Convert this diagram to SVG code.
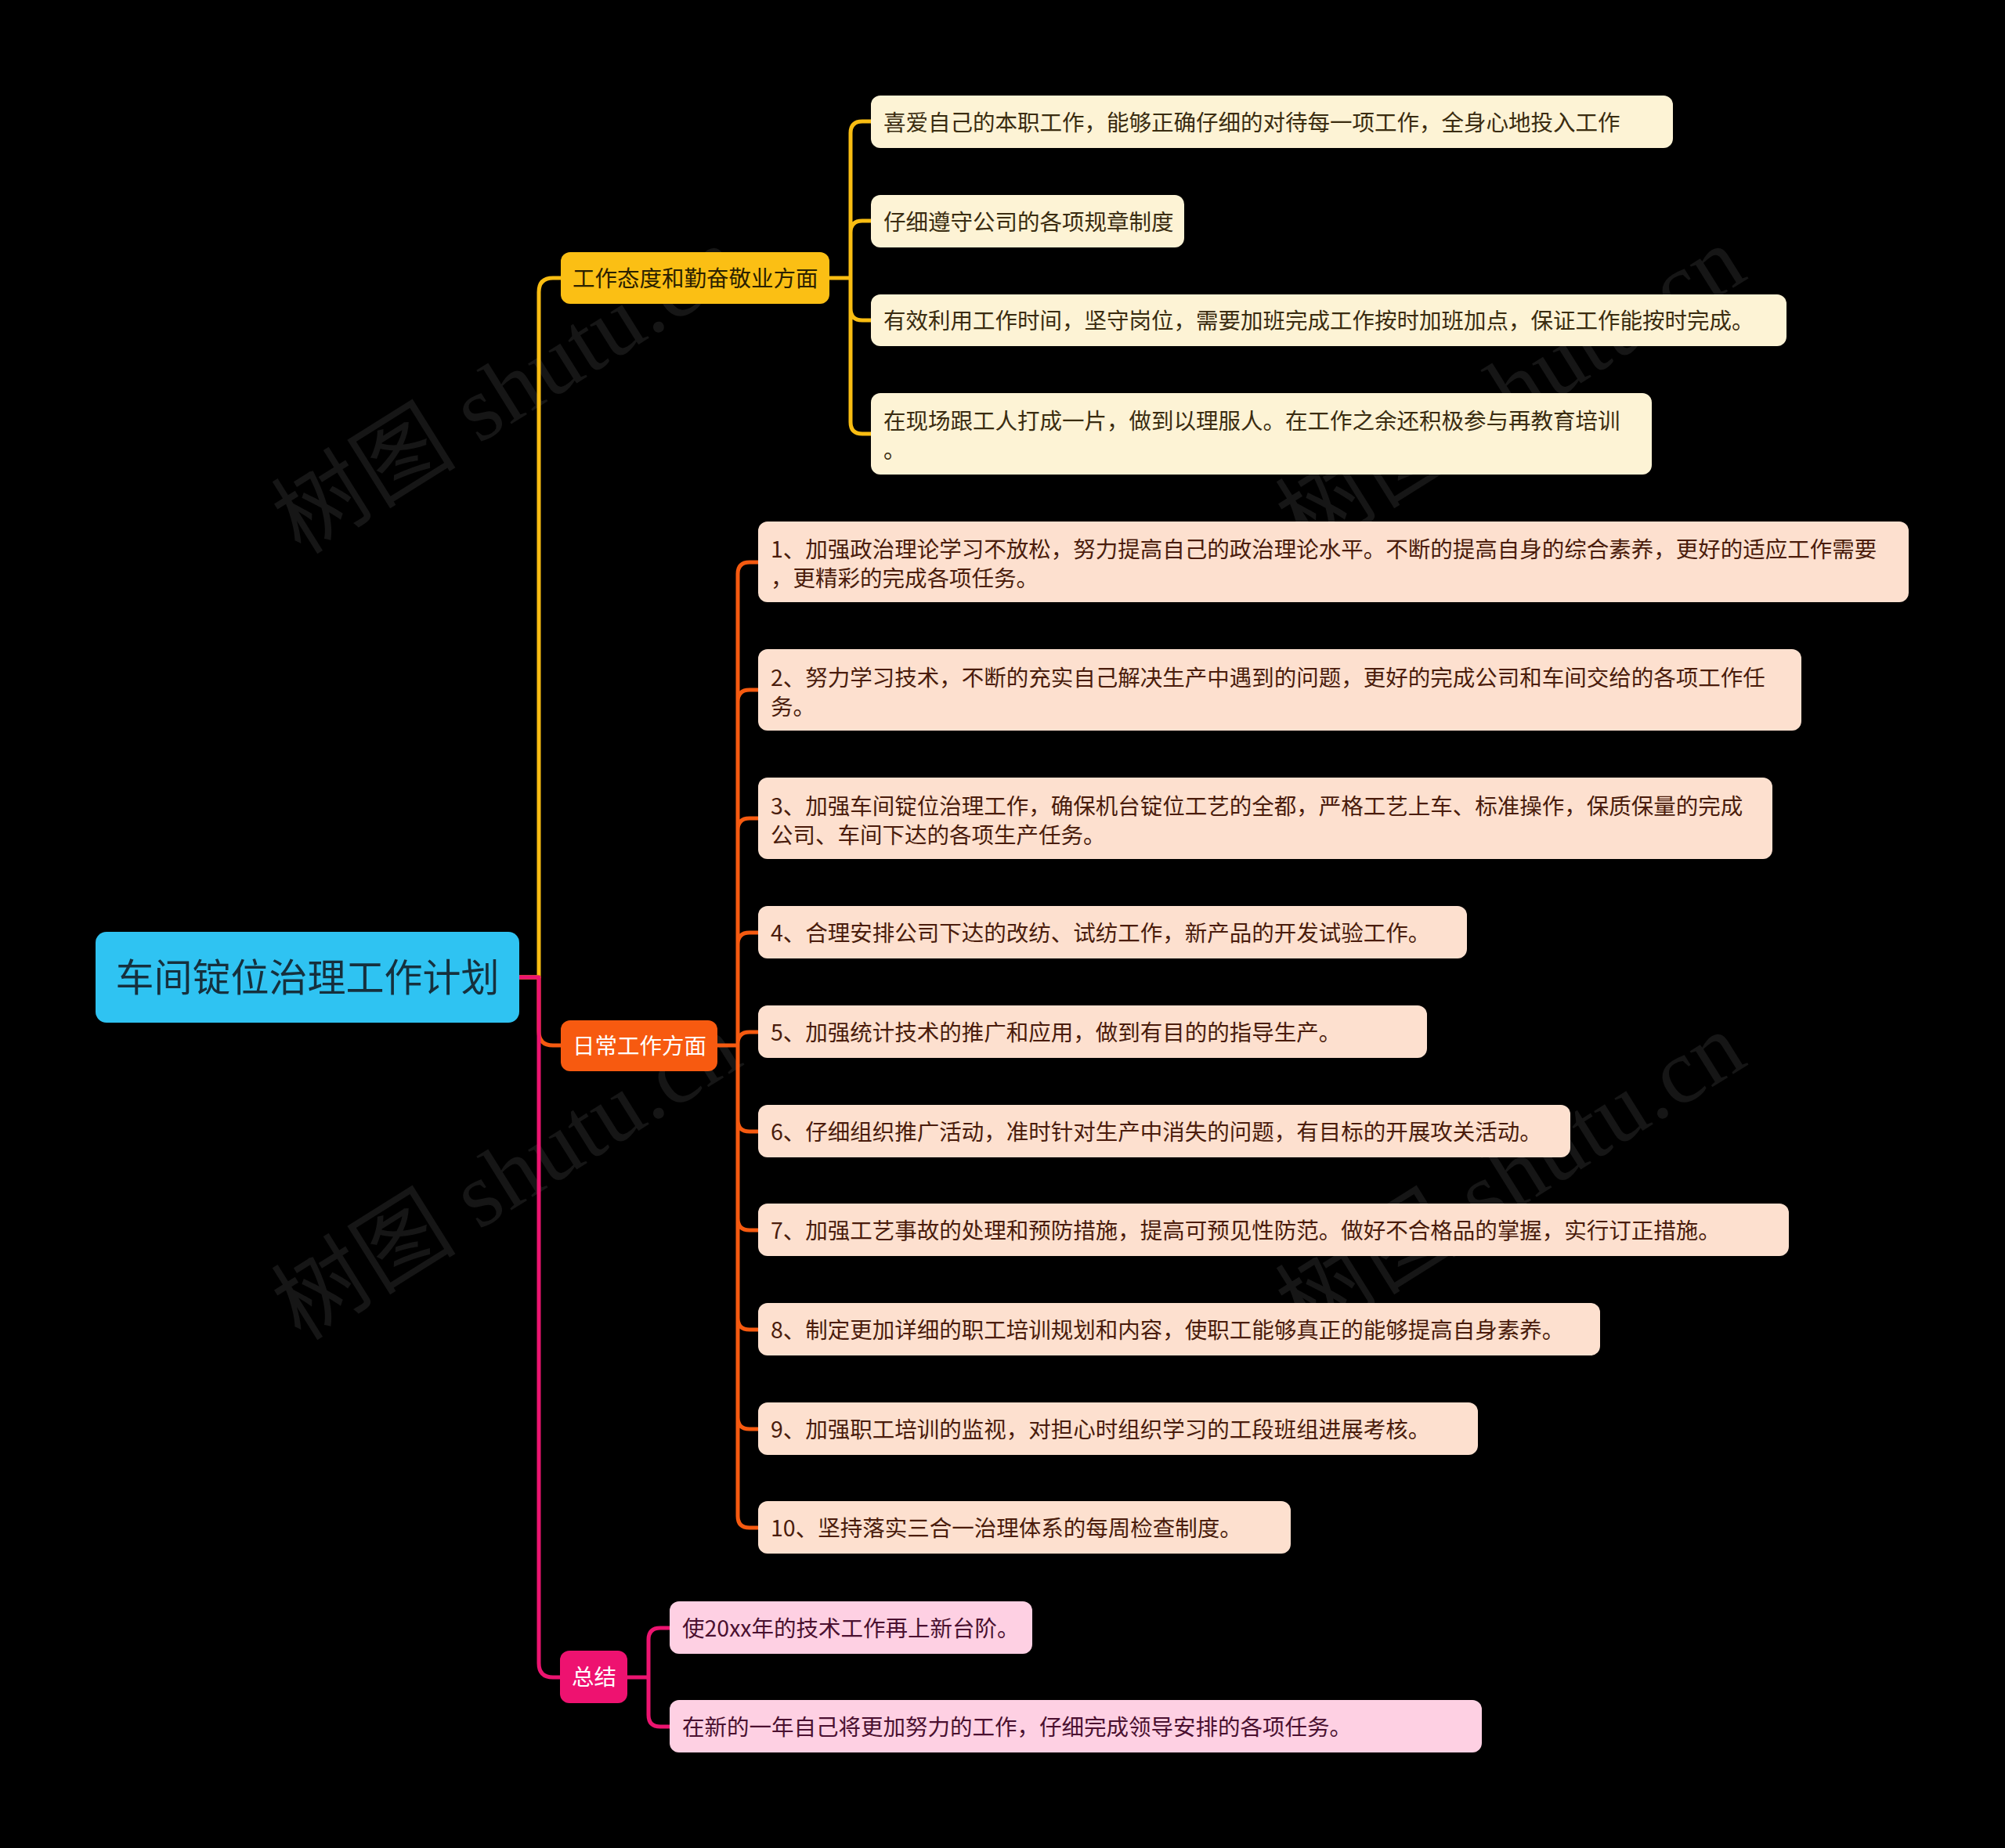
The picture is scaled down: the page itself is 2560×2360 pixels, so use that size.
<svg xmlns="http://www.w3.org/2000/svg" width="2560" height="2360" viewBox="0 0 2560 2360">
<style>
.t{font-family:"Noto Sans CJK SC","Microsoft YaHei",sans-serif;font-size:28.5px}
.wm{font-family:"Liberation Serif","Noto Sans CJK SC",serif;font-size:118px;fill:#161616}
.ln{fill:none;stroke-width:5;stroke-linecap:round;stroke-linejoin:round}
.ye{stroke:#f9bd12}.or{stroke:#f65a10}.pk{stroke:#ec1470}
.cy{fill:#fdf3d5}.co{fill:#fde0cf}.cp{fill:#fed0e3}
.ty{fill:#3a2c10}.to{fill:#4a1c0c}.tp{fill:#4a1030}
</style>
<rect x="0" y="0" width="2560" height="2360" fill="#000000"/>
<g id="watermarks">
<text class="wm" text-anchor="middle" textLength="670" transform="translate(668,532) rotate(-32)">树图 shutu.cn</text>
<text class="wm" text-anchor="middle" textLength="670" transform="translate(1950,532) rotate(-32)">树图 shutu.cn</text>
<text class="wm" text-anchor="middle" textLength="670" transform="translate(668,1536) rotate(-32)">树图 shutu.cn</text>
<text class="wm" text-anchor="middle" textLength="670" transform="translate(1950,1536) rotate(-32)">树图 shutu.cn</text>
</g>
<g id="connectors">
<path class="ln ye" d="M663,1248 H688 V373 Q688,355 706,355 H716"/>
<path class="ln or" d="M663,1248 H688 V1317 Q688,1335 706,1335 H716"/>
<path class="ln pk" d="M663,1248 H688 V2124 Q688,2142 706,2142 H715"/>
<path class="ln ye" d="M1059,355 H1086 M1086,355 V170 Q1086,155 1101,155 H1112 M1086,355 V297 Q1086,282 1101,282 H1112 M1086,355 V394 Q1086,409 1101,409 H1112 M1086,355 V539 Q1086,554 1101,554 H1112"/>
<path class="ln or" d="M916,1335 H942 M942,1335 V733 Q942,718 957,718 H968 M942,1335 V896 Q942,881 957,881 H968 M942,1335 V1060 Q942,1045 957,1045 H968 M942,1335 V1206 Q942,1191 957,1191 H968 M942,1335 V1333 Q942,1318 957,1318 H968 M942,1335 V1430 Q942,1445 957,1445 H968 M942,1335 V1556 Q942,1571 957,1571 H968 M942,1335 V1683 Q942,1698 957,1698 H968 M942,1335 V1810 Q942,1825 957,1825 H968 M942,1335 V1936 Q942,1951 957,1951 H968"/>
<path class="ln pk" d="M801,2142 H828 M828,2142 V2094 Q828,2079 843,2079 H855 M828,2142 V2190 Q828,2205 843,2205 H855"/>
</g>
<g id="root">
<rect x="122" y="1190" width="541" height="116" rx="14" fill="#2fc3f2"/>
<text class="t" x="392.5" y="1266" text-anchor="middle" style="font-size:49px" fill="#16303d">车间锭位治理工作计划</text>
</g>
<g id="n-attitude">
<rect x="716" y="322" width="343" height="66" rx="12" fill="#fbbf14"/>
<text class="t" x="731" y="366" fill="#2b2100">工作态度和勤奋敬业方面</text>
</g>
<g id="n-daily">
<rect x="716" y="1303" width="200" height="65" rx="12" fill="#f75a10"/>
<text class="t" x="731" y="1346" fill="#ffffff">日常工作方面</text>
</g>
<g id="n-summary">
<rect x="715" y="2108" width="86" height="67" rx="12" fill="#ee1270"/>
<text class="t" x="730" y="2152" fill="#ffffff">总结</text>
</g>
<g id="y1"><rect class="cy" x="1112" y="122" width="1024" height="67" rx="12"/><text class="t ty" x="1128" y="167">喜爱自己的本职工作，能够正确仔细的对待每一项工作，全身心地投入工作</text></g>
<g id="y2"><rect class="cy" x="1112" y="249" width="400" height="67" rx="12"/><text class="t ty" x="1128" y="294">仔细遵守公司的各项规章制度</text></g>
<g id="y3"><rect class="cy" x="1112" y="376" width="1169" height="66" rx="12"/><text class="t ty" x="1128" y="420">有效利用工作时间，坚守岗位，需要加班完成工作按时加班加点，保证工作能按时完成。</text></g>
<g id="y4"><rect class="cy" x="1112" y="502" width="997" height="104" rx="12"/><text class="t ty" x="1128" y="548">在现场跟工人打成一片，做到以理服人。在工作之余还积极参与再教育培训</text><text class="t ty" x="1128" y="585">。</text></g>
<g id="o1"><rect class="co" x="968" y="666" width="1469" height="103" rx="12"/><text class="t to" x="984" y="712">1、加强政治理论学习不放松，努力提高自己的政治理论水平。不断的提高自身的综合素养，更好的适应工作需要</text><text class="t to" x="984" y="749">，更精彩的完成各项任务。</text></g>
<g id="o2"><rect class="co" x="968" y="829" width="1332" height="104" rx="12"/><text class="t to" x="984" y="876">2、努力学习技术，不断的充实自己解决生产中遇到的问题，更好的完成公司和车间交给的各项工作任</text><text class="t to" x="984" y="913">务。</text></g>
<g id="o3"><rect class="co" x="968" y="993" width="1295" height="104" rx="12"/><text class="t to" x="984" y="1040">3、加强车间锭位治理工作，确保机台锭位工艺的全都，严格工艺上车、标准操作，保质保量的完成</text><text class="t to" x="984" y="1077">公司、车间下达的各项生产任务。</text></g>
<g id="o4"><rect class="co" x="968" y="1157" width="905" height="67" rx="12"/><text class="t to" x="984" y="1202">4、合理安排公司下达的改纺、试纺工作，新产品的开发试验工作。</text></g>
<g id="o5"><rect class="co" x="968" y="1284" width="854" height="67" rx="12"/><text class="t to" x="984" y="1329">5、加强统计技术的推广和应用，做到有目的的指导生产。</text></g>
<g id="o6"><rect class="co" x="968" y="1411" width="1037" height="67" rx="12"/><text class="t to" x="984" y="1456">6、仔细组织推广活动，准时针对生产中消失的问题，有目标的开展攻关活动。</text></g>
<g id="o7"><rect class="co" x="968" y="1537" width="1316" height="67" rx="12"/><text class="t to" x="984" y="1582">7、加强工艺事故的处理和预防措施，提高可预见性防范。做好不合格品的掌握，实行订正措施。</text></g>
<g id="o8"><rect class="co" x="968" y="1664" width="1075" height="67" rx="12"/><text class="t to" x="984" y="1709">8、制定更加详细的职工培训规划和内容，使职工能够真正的能够提高自身素养。</text></g>
<g id="o9"><rect class="co" x="968" y="1791" width="919" height="67" rx="12"/><text class="t to" x="984" y="1836">9、加强职工培训的监视，对担心时组织学习的工段班组进展考核。</text></g>
<g id="o10"><rect class="co" x="968" y="1917" width="680" height="67" rx="12"/><text class="t to" x="984" y="1962">10、坚持落实三合一治理体系的每周检查制度。</text></g>
<g id="p1"><rect class="cp" x="855" y="2045" width="463" height="67" rx="12"/><text class="t tp" x="871" y="2090">使20xx年的技术工作再上新台阶。</text></g>
<g id="p2"><rect class="cp" x="855" y="2171" width="1037" height="67" rx="12"/><text class="t tp" x="871" y="2216">在新的一年自己将更加努力的工作，仔细完成领导安排的各项任务。</text></g>
</svg>
